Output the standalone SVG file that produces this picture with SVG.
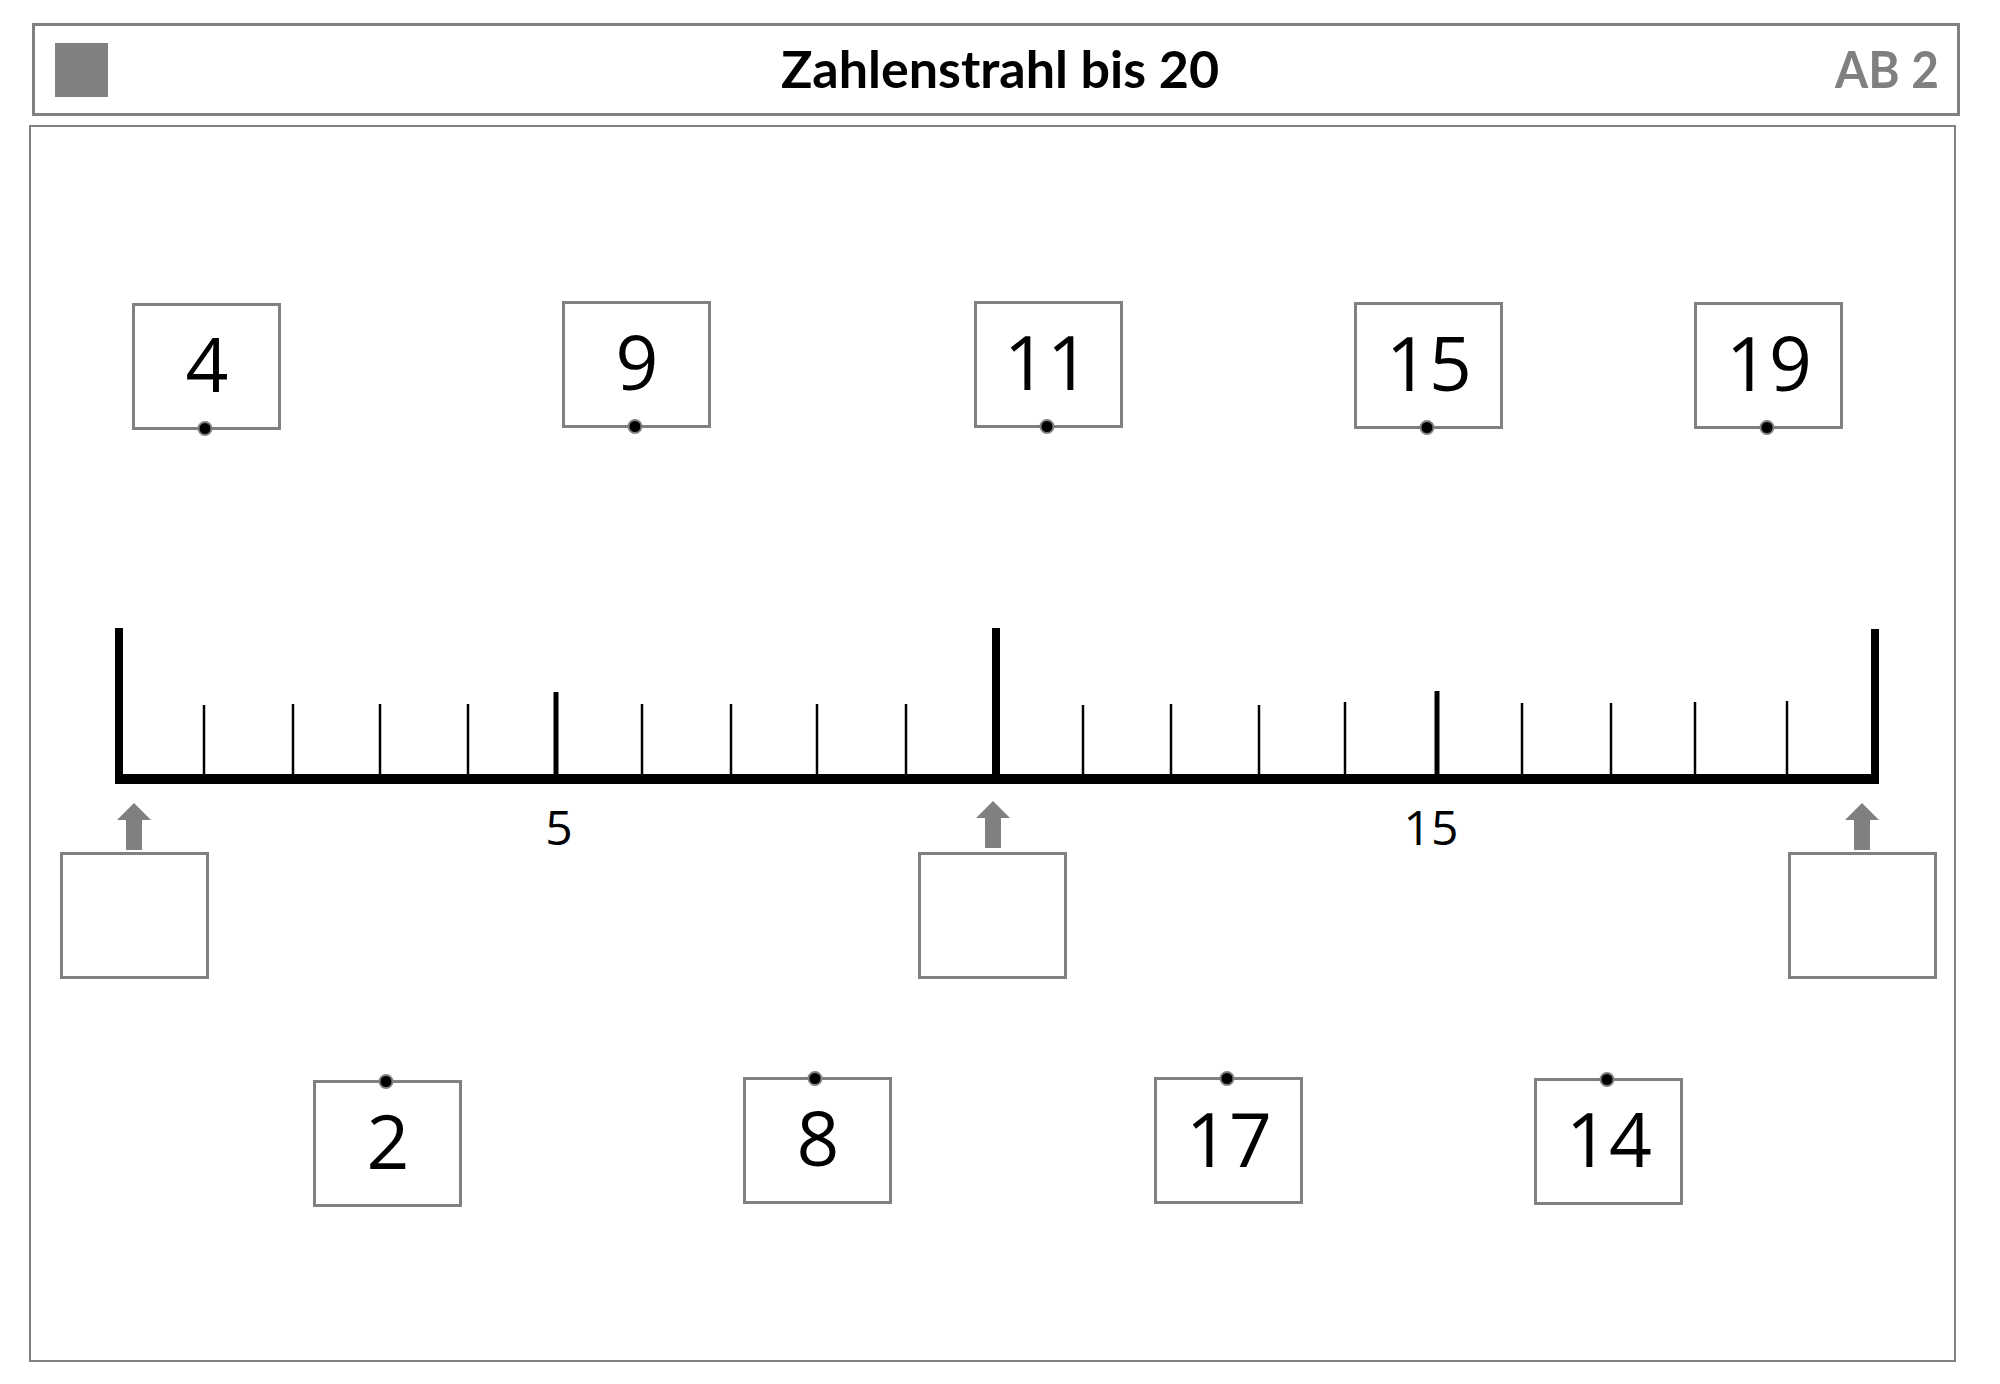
<svg xmlns="http://www.w3.org/2000/svg" width="2000" height="1384" viewBox="0 0 2000 1384">
<style>
.frame{fill:#fff;stroke:#808080}
.card{fill:#fff;stroke:#808080;stroke-width:3}
.num{font-family:"Open Sans","Noto Sans",sans-serif;font-size:75px;fill:#000;text-anchor:middle}
.lbl{font-family:"Open Sans","Noto Sans",sans-serif;font-size:48px;fill:#000;text-anchor:middle}
.dot{fill:#000;stroke:#808080;stroke-width:2}
.tk{stroke:#000;stroke-width:2.5}
.tm{stroke:#000;stroke-width:5}
.tb{stroke:#000;stroke-width:8}
.arr{fill:#808080}
</style>
<defs>
<path id="uparrow" d="M0,0 L17,17 L8,17 L8,47 L-8,47 L-8,17 L-17,17 Z"/>
</defs>
<rect width="2000" height="1384" fill="#fff"/>
<g id="header">
<rect class="frame" x="33.5" y="24.5" width="1925" height="90" stroke-width="3"/>
<rect x="55" y="43" width="53" height="54" fill="#808080"/>
<text x="1000" y="88" text-anchor="middle" font-family="Lato,'Open Sans',sans-serif" font-weight="bold" font-size="52" fill="#000">Zahlenstrahl bis 20</text>
<text x="1835" y="88" font-family="Lato,'Open Sans',sans-serif" font-weight="bold" font-size="52" fill="#808080" textLength="104" lengthAdjust="spacingAndGlyphs">AB 2</text>
</g>
<rect id="body" class="frame" x="30" y="126" width="1925" height="1235" stroke-width="2"/>
<g id="numberline">
<line x1="115" y1="779" x2="1879" y2="779" stroke="#000" stroke-width="10"/>
<line class="tb" x1="119" y1="628" x2="119" y2="784"/>
<line class="tk" x1="204" y1="705" x2="204" y2="779"/>
<line class="tk" x1="293" y1="704" x2="293" y2="779"/>
<line class="tk" x1="380" y1="704" x2="380" y2="779"/>
<line class="tk" x1="468" y1="704" x2="468" y2="779"/>
<line class="tm" x1="556" y1="692" x2="556" y2="779"/>
<line class="tk" x1="642" y1="704" x2="642" y2="779"/>
<line class="tk" x1="731" y1="704" x2="731" y2="779"/>
<line class="tk" x1="817" y1="704" x2="817" y2="779"/>
<line class="tk" x1="906" y1="704" x2="906" y2="779"/>
<line class="tb" x1="996" y1="628" x2="996" y2="779"/>
<line class="tk" x1="1083" y1="705" x2="1083" y2="779"/>
<line class="tk" x1="1171" y1="704" x2="1171" y2="779"/>
<line class="tk" x1="1259" y1="705" x2="1259" y2="779"/>
<line class="tk" x1="1345" y1="702" x2="1345" y2="779"/>
<line class="tm" x1="1437" y1="691" x2="1437" y2="779"/>
<line class="tk" x1="1522" y1="703" x2="1522" y2="779"/>
<line class="tk" x1="1611" y1="703" x2="1611" y2="779"/>
<line class="tk" x1="1695" y1="702" x2="1695" y2="779"/>
<line class="tk" x1="1787" y1="701" x2="1787" y2="779"/>
<line class="tb" x1="1875" y1="629" x2="1875" y2="784"/>
<text class="lbl" x="559" y="845">5</text>
<text class="lbl" x="1431" y="845">15</text>
</g>
<g id="card-4"><rect class="card" x="133.5" y="304.5" width="146" height="124"/><text class="num" x="207" y="392">4</text><circle class="dot" cx="205" cy="428.5" r="6.5"/></g>
<g id="card-9"><rect class="card" x="563.5" y="302.5" width="146" height="124"/><text class="num" x="637" y="390">9</text><circle class="dot" cx="635" cy="426.5" r="6.5"/></g>
<g id="card-11"><rect class="card" x="975.5" y="302.5" width="146" height="124"/><text class="num" x="1047" y="390">11</text><circle class="dot" cx="1047" cy="426.5" r="6.5"/></g>
<g id="card-15"><rect class="card" x="1355.5" y="303.5" width="146" height="124"/><text class="num" x="1429" y="391">15</text><circle class="dot" cx="1427" cy="427.5" r="6.5"/></g>
<g id="card-19"><rect class="card" x="1695.5" y="303.5" width="146" height="124"/><text class="num" x="1769" y="391">19</text><circle class="dot" cx="1767" cy="427.5" r="6.5"/></g>
<g id="blank-0"><rect class="card" x="61.5" y="853.5" width="146" height="124"/></g>
<g id="blank-10"><rect class="card" x="919.5" y="853.5" width="146" height="124"/></g>
<g id="blank-20"><rect class="card" x="1789.5" y="853.5" width="146" height="124"/></g>
<g id="connectors">
<use href="#uparrow" class="arr" x="134" y="803"/>
<use href="#uparrow" class="arr" x="993" y="801"/>
<use href="#uparrow" class="arr" x="1862" y="803"/>
</g>
<g id="card-2"><rect class="card" x="314.5" y="1081.5" width="146" height="124"/><text class="num" x="388" y="1169">2</text><circle class="dot" cx="386" cy="1081.5" r="6.5"/></g>
<g id="card-8"><rect class="card" x="744.5" y="1078.5" width="146" height="124"/><text class="num" x="818" y="1166">8</text><circle class="dot" cx="815" cy="1078.5" r="6.5"/></g>
<g id="card-17"><rect class="card" x="1155.5" y="1078.5" width="146" height="124"/><text class="num" x="1229" y="1167">17</text><circle class="dot" cx="1227" cy="1078.5" r="6.5"/></g>
<g id="card-14"><rect class="card" x="1535.5" y="1079.5" width="146" height="124"/><text class="num" x="1609" y="1167">14</text><circle class="dot" cx="1607" cy="1079.5" r="6.5"/></g>
</svg>
